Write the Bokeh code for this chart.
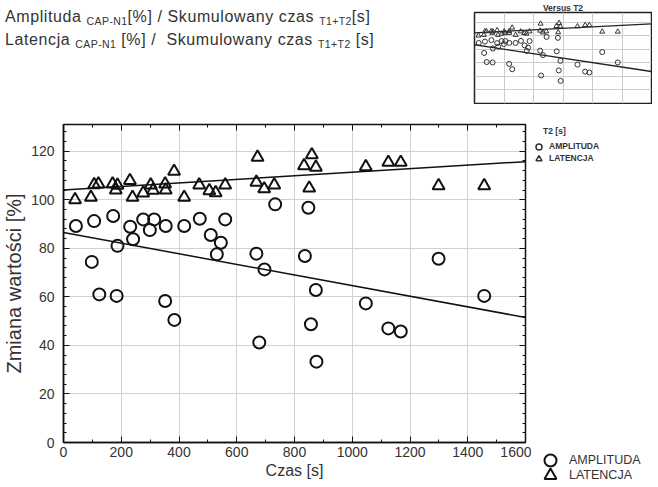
from bokeh.plotting import figure
from bokeh.models import (Label, Legend, LegendItem, LinearAxis, FixedTicker,
                          CustomJSTickFormatter, Div, Range1d)
from bokeh.layouts import column, row
from bokeh.embed import file_html
from bokeh.resources import INLINE

# ---------------- data ----------------
amp_x = [43, 98, 106, 124, 172, 187, 184, 231, 241, 276, 299, 314, 354, 352, 384,
         418, 472, 510, 545, 531, 560, 668, 678, 696, 733, 836, 848, 857, 874, 876,
         1047, 1125, 1168, 1299, 1457]
amp_y = [89.2, 74.4, 91.2, 61.0, 93.3, 81.0, 60.4, 88.9, 83.7, 91.9, 87.5, 91.9, 89.2, 58.3, 50.5,
         89.2, 92.2, 85.5, 82.3, 77.5, 91.9, 77.8, 41.2, 71.3, 98.1, 76.8, 96.7, 48.7, 62.8, 33.3,
         57.3, 47.0, 45.7, 75.7, 60.4]

lat_x = [40, 95, 106, 121, 170, 187, 181, 230, 239, 276, 302, 310, 352, 354, 383,
         418, 470, 505, 527, 560, 672, 668, 695, 730, 833, 860, 874, 851,
         1047, 1125, 1168, 1299, 1457]
lat_y = [100.0, 101.0, 106.2, 106.5, 106.5, 106.0, 104.0, 107.9, 101.0, 102.8, 106.1, 103.9, 106.5, 104.0, 111.7,
         101.0, 106.1, 103.7, 102.9, 106.1, 117.5, 107.2, 104.5, 106.1, 114.0, 118.5, 113.4, 104.8,
         113.6, 115.4, 115.4, 105.8, 105.8]

fit_x = [0, 1600]
amp_fit = [86.5, 51.5]
lat_fit = [104.0, 115.7]

x_ticks = [0, 200, 400, 600, 800, 1000, 1200, 1400, 1600]
x_minor = list(range(0, 1601, 100))
y_ticks = [0, 20, 40, 60, 80, 100, 120]
y_minor = list(range(0, 132, 4))

inset_x_ticks = [0, 300, 600, 900, 1200, 1500, 1800]
inset_y_ticks = [0, 20, 40, 60, 80, 100, 120]

FONT = "Liberation Sans"
TXT = "#333333"
INK = "#111111"

# main frame geometry (pixels)
FW, FH = 462, 318
BL, BR, BT, BB = 63, 6, 10, 39
X0, X1, Y0, Y1 = 0, 1600, 0, 131
dx = (X1 - X0) / FW
dy = (Y1 - Y0) / FH
H = BT + FH + BB


def no_align(fig):
    try:
        fig.frame_align = False
    except Exception:
        pass


# ---------------- main chart ----------------
p = figure(width=BL + FW + BR, height=H, x_range=Range1d(X0, X1), y_range=Range1d(Y0, Y1),
           output_backend="svg", toolbar_location=None,
           min_border_left=BL, min_border_right=BR, min_border_top=BT, min_border_bottom=BB)
no_align(p)
p.outline_line_color = INK
p.outline_line_width = 1.5
p.background_fill_color = "white"
p.border_fill_color = "white"

p.xaxis.ticker = FixedTicker(ticks=x_ticks, minor_ticks=x_minor)
p.yaxis.ticker = FixedTicker(ticks=y_ticks, minor_ticks=y_minor)
p.xgrid.ticker = FixedTicker(ticks=x_ticks)
p.ygrid.ticker = FixedTicker(ticks=y_ticks)
p.xgrid.grid_line_color = "#d2d2d2"
p.ygrid.grid_line_color = "#d2d2d2"

for ax in (p.xaxis[0], p.yaxis[0]):
    ax.major_label_text_font = FONT
    ax.major_label_text_font_size = "14px"
    ax.major_label_text_color = TXT
    ax.major_tick_in = 6
    ax.major_tick_out = 0
    ax.minor_tick_in = 3
    ax.minor_tick_out = 0
    ax.axis_line_color = INK
    ax.axis_line_width = 1.5
    ax.major_tick_line_color = INK
    ax.minor_tick_line_color = INK
    ax.axis_label_text_font = FONT
    ax.axis_label_text_font_style = "normal"
    ax.axis_label_text_color = TXT
p.xaxis.major_label_standoff = 4
p.xaxis.axis_label = "Czas [s]"
p.xaxis.axis_label_text_font_size = "16px"
p.xaxis.axis_label_standoff = 2
p.yaxis.major_label_standoff = 9
p.yaxis.axis_label = "Zmiana wartości [%]"
p.yaxis.axis_label_text_font_size = "20px"
p.yaxis.axis_label_standoff = 3

blank = CustomJSTickFormatter(code="return ''")
top_ax = LinearAxis(ticker=FixedTicker(ticks=x_ticks, minor_ticks=x_minor), formatter=blank,
                    major_label_text_font_size="1px", major_label_standoff=0,
                    major_tick_in=6, major_tick_out=0, minor_tick_in=3, minor_tick_out=0,
                    axis_line_color=INK, major_tick_line_color=INK, minor_tick_line_color=INK)
p.add_layout(top_ax, "above")
right_ax = LinearAxis(ticker=FixedTicker(ticks=y_ticks, minor_ticks=y_minor), formatter=blank,
                      major_label_text_font_size="1px", major_label_standoff=0,
                      major_tick_in=6, major_tick_out=0, minor_tick_in=3, minor_tick_out=0,
                      axis_line_color=INK, major_tick_line_color=INK, minor_tick_line_color=INK)
p.add_layout(right_ax, "right")

p.line(fit_x, lat_fit, line_color=INK, line_width=1.5)
p.line(fit_x, amp_fit, line_color=INK, line_width=1.5)
p.scatter(amp_x, amp_y, marker="circle", size=12, fill_color=None, line_color=INK, line_width=2)
p.scatter(lat_x, lat_y, marker="triangle", size=12, fill_color=None, line_color=INK, line_width=2)

# ---------------- side strip (legends and inset labels) ----------------
SW = 111
sx0 = X1 + BR * dx
side = figure(width=SW, height=H,
              x_range=Range1d(sx0, sx0 + SW * dx),
              y_range=Range1d(Y0 - BB * dy, Y1 + BT * dy),
              x_axis_location=None, y_axis_location=None,
              output_backend="svg", toolbar_location=None,
              min_border_left=0, min_border_right=0, min_border_top=0, min_border_bottom=0)
no_align(side)
side.outline_line_color = None
side.xgrid.visible = False
side.ygrid.visible = False

# the series again (they fall outside this strip's x range, so only their legend glyphs show)
big_amp = side.scatter(amp_x, amp_y, marker="circle", size=12, fill_color=None, line_color=INK, line_width=2)
big_lat = side.scatter(lat_x, lat_y, marker="triangle", size=12, fill_color=None, line_color=INK, line_width=2)
small_amp = side.scatter(amp_x, amp_y, marker="circle", size=6, fill_color=None, line_color="#333333", line_width=1.5)
small_lat = side.scatter(lat_x, lat_y, marker="triangle", size=6, fill_color=None, line_color="#333333", line_width=1.5)


def add_legend(fig, renderer, label, loc, glyph, font_size, bold, standoff):
    lg = Legend(items=[LegendItem(label=label, renderers=[renderer])], location=loc,
                glyph_width=glyph, glyph_height=glyph, label_height=glyph,
                label_standoff=standoff, padding=0, margin=0, spacing=0,
                border_line_color=None, background_fill_alpha=0,
                label_text_font=FONT, label_text_font_size=font_size,
                label_text_font_style="bold" if bold else "normal",
                label_text_color=TXT, label_text_baseline="middle")
    fig.add_layout(lg)


# bottom legend
add_legend(side, big_amp, "AMPLITUDA", (4, 6), 30, "12.5px", False, 4)
add_legend(side, big_lat, "LATENCJA", (4, -9), 30, "12.5px", False, 4)
# legend of the small inset
add_legend(side, small_amp, "AMPLITUDA", (0, H - 39.5), 15, "8.5px", True, 3)
add_legend(side, small_lat, "LATENCJA", (0, H - 51.5), 15, "8.5px", True, 3)

side.add_layout(Label(x=1700, y=128.5, text="T2 [s]", text_align="center", text_baseline="middle",
                      text_font=FONT, text_font_size="8.5px", text_font_style="bold", text_color=TXT))

# ---------------- inset ----------------
pi = figure(width=179, height=104, x_range=Range1d(0, 1800), y_range=Range1d(0, 134),
            x_axis_location=None, y_axis_location=None,
            output_backend="svg", toolbar_location=None,
            min_border_left=1, min_border_right=1, min_border_top=0, min_border_bottom=1)
no_align(pi)
pi.title.text = "Versus T2"
pi.title.align = "center"
pi.title.text_font = FONT
pi.title.text_font_size = "8.5px"
pi.title.text_font_style = "bold"
pi.title.text_color = TXT
pi.title.standoff = 0
pi.outline_line_color = "#222222"
pi.outline_line_width = 1.5
pi.xgrid.ticker = FixedTicker(ticks=inset_x_ticks)
pi.ygrid.ticker = FixedTicker(ticks=inset_y_ticks)
pi.xgrid.grid_line_color = "#cccccc"
pi.ygrid.grid_line_color = "#cccccc"

x_end = pi.x_range.end
amp_slope = (amp_fit[1] - amp_fit[0]) / (fit_x[1] - fit_x[0])
lat_slope = (lat_fit[1] - lat_fit[0]) / (fit_x[1] - fit_x[0])
pi.line([0, x_end], [amp_fit[0], amp_fit[0] + amp_slope * x_end], line_color="#222222", line_width=1.3)
pi.line([0, x_end], [lat_fit[0], lat_fit[0] + lat_slope * x_end], line_color="#222222", line_width=1.3)
pi.scatter(amp_x, amp_y, marker="circle", size=5, fill_color=None, line_color="#333333", line_width=1)
pi.scatter(lat_x, lat_y, marker="triangle", size=5, fill_color=None, line_color="#333333", line_width=1)

# ---------------- title block ----------------
sub = 'style="font-size:10.5px;position:relative;top:3px;letter-spacing:0.4px"'
line1 = f'Amplituda <span {sub}>CAP-N1</span>[%] / Skumulowany czas <span {sub}>T1+T2</span>[s]'
line2 = f'Latencja <span {sub}>CAP-N1</span> [%] /&nbsp; Skumulowany czas <span {sub}>T1+T2</span> [s]'
html = ('<div style="font-family:\'Liberation Sans\',Arial,sans-serif;font-size:16px;'
        'letter-spacing:0.6px;color:#333333;line-height:21px;white-space:nowrap;margin-top:1px">'
        f'{line1}<br>{line2}</div>')
div = Div(text=html, width=463, height=104)

layout = column(row(div, pi), row(p, side))
open("out.html", "w").write(file_html(layout, INLINE))
